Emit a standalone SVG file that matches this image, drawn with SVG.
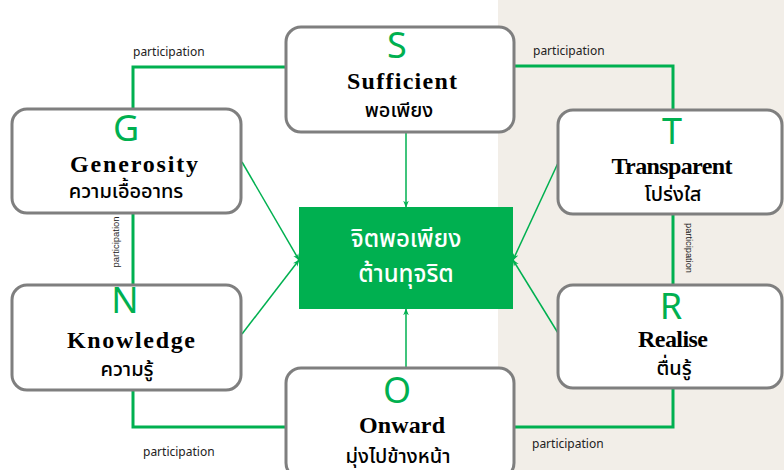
<svg xmlns="http://www.w3.org/2000/svg" width="784" height="470" viewBox="0 0 784 470">
<style>
.box{fill:#ffffff;stroke:#7f7f7f;stroke-width:3}
.letter{font-family:"Noto Sans","Open Sans",sans-serif;font-size:36px;fill:#00b050;text-anchor:middle}
.en{font-family:"Liberation Serif","Times New Roman",serif;font-weight:bold;font-size:24px;fill:#000;text-anchor:middle}
.th{font-family:"Noto Sans","Noto Sans Thai",sans-serif;font-size:20px;font-weight:500;fill:#000;text-anchor:middle}
.part{font-family:"Noto Sans","Open Sans",sans-serif;font-size:12px;fill:#222}
.vpart{font-family:"Liberation Sans",Arial,sans-serif;font-size:9px;fill:#222;text-anchor:middle}
.link{fill:none;stroke:#00b050;stroke-width:3}
.arrow{fill:none;stroke:#00b050;stroke-width:1.5}
.center{font-family:"Noto Sans","Noto Sans Thai",sans-serif;font-size:24px;font-weight:500;fill:#ffffff;text-anchor:middle}
</style>
<defs>
<marker id="ah" viewBox="0 0 10 10" refX="9" refY="5" markerWidth="7" markerHeight="7" orient="auto" markerUnits="userSpaceOnUse">
<path d="M0,1 L10,5 L0,9 L3,5 Z" fill="#00b050"/>
</marker>
</defs>
<rect x="0" y="0" width="784" height="470" fill="#ffffff"/>
<rect x="498" y="0" width="286" height="470" fill="#f2eee8"/>

<g id="connectors">
<polyline class="link" points="133,109 133,67 286,67"/>
<polyline class="link" points="514,66 673,66 673,110"/>
<line class="link" x1="133" y1="213" x2="133" y2="285"/>
<line class="link" x1="673" y1="214" x2="673" y2="285"/>
<polyline class="link" points="133,390 133,427 286,427"/>
<polyline class="link" points="514,427 673,427 673,388"/>
<line class="arrow" x1="406" y1="133" x2="406" y2="207" marker-end="url(#ah)"/>
<line class="arrow" x1="406" y1="368" x2="406" y2="309" marker-end="url(#ah)"/>
<line class="arrow" x1="242" y1="162" x2="299" y2="260" marker-end="url(#ah)"/>
<line class="arrow" x1="242" y1="334" x2="299" y2="260" marker-end="url(#ah)"/>
<line class="arrow" x1="558" y1="163" x2="513" y2="260" marker-end="url(#ah)"/>
<line class="arrow" x1="558" y1="333" x2="513" y2="260" marker-end="url(#ah)"/>
<text class="part" x="133" y="56">participation</text>
<text class="part" x="533" y="55">participation</text>
<text class="part" x="143" y="456">participation</text>
<text class="part" x="532" y="448">participation</text>
<text class="vpart" transform="translate(119,242) rotate(-90)" textLength="51" lengthAdjust="spacingAndGlyphs">participation</text>
<text class="vpart" transform="translate(686,248) rotate(90)" textLength="50" lengthAdjust="spacingAndGlyphs">participation</text>
</g>

<g id="node-center">
<rect x="299" y="207" width="214" height="102" fill="#00b050"/>
<text class="center" x="406" y="247">จิตพอเพียง</text>
<text class="center" x="406" y="282">ต้านทุจริต</text>
</g>

<g id="node-S">
<rect class="box" x="286" y="27" width="228" height="105" rx="15"/>
<text class="letter" x="397" y="58">S</text>
<text class="en" x="402" y="89" textLength="110" lengthAdjust="spacing">Sufficient</text>
<text class="th" x="399" y="117">พอเพียง</text>
</g>

<g id="node-G">
<rect class="box" x="12" y="109" width="229" height="104" rx="15"/>
<text class="letter" x="126" y="141">G</text>
<text class="en" x="134" y="172" textLength="128" lengthAdjust="spacing">Generosity</text>
<text class="th" x="126" y="198">ความเอื้ออาทร</text>
</g>

<g id="node-T">
<rect class="box" x="558" y="110" width="224" height="104" rx="15"/>
<text class="letter" x="672" y="144">T</text>
<text class="en" x="672" y="174" textLength="121" lengthAdjust="spacing">Transparent</text>
<text class="th" x="673" y="201">โปร่งใส</text>
</g>

<g id="node-N">
<rect class="box" x="12" y="285" width="229" height="105" rx="15"/>
<text class="letter" x="125" y="313">N</text>
<text class="en" x="131" y="348" textLength="128" lengthAdjust="spacing">Knowledge</text>
<text class="th" x="127" y="376">ความรู้</text>
</g>

<g id="node-R">
<rect class="box" x="558" y="285" width="224" height="103" rx="15"/>
<text class="letter" x="671" y="319">R</text>
<text class="en" x="673" y="347" textLength="70" lengthAdjust="spacing">Realise</text>
<text class="th" x="674" y="375">ตื่นรู้</text>
</g>

<g id="node-O">
<rect class="box" x="286" y="368" width="228" height="110" rx="15"/>
<text class="letter" x="397" y="403">O</text>
<text class="en" x="402" y="433" textLength="86" lengthAdjust="spacing">Onward</text>
<text class="th" x="398" y="463">มุ่งไปข้างหน้า</text>
</g>
</svg>
